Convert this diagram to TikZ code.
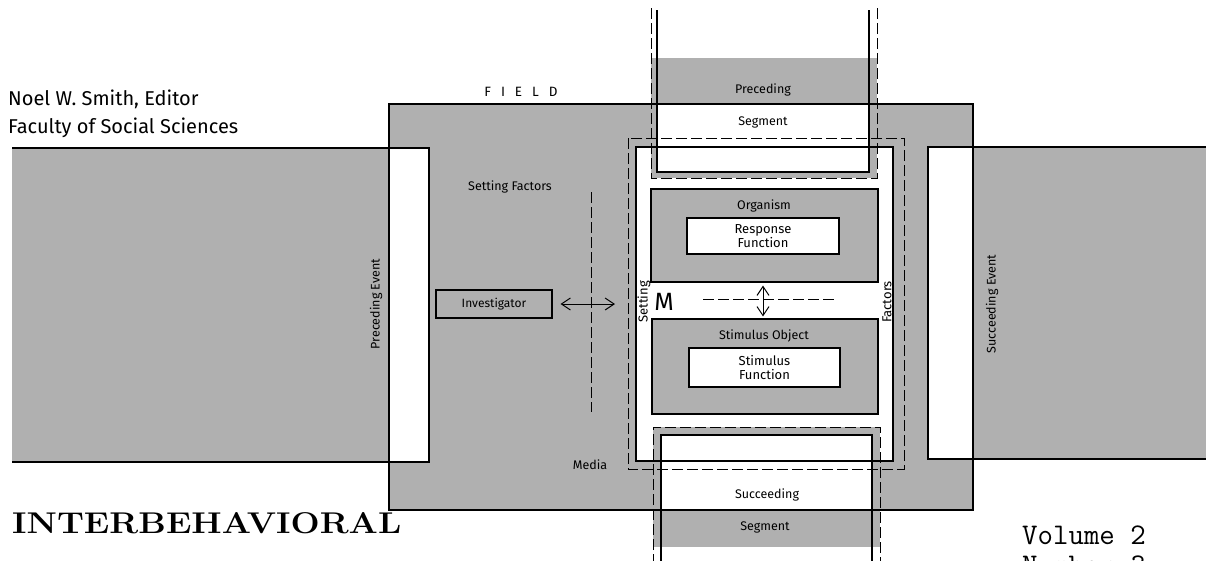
\documentclass[tikz,border=0pt]{standalone}
\usepackage{fontspec}
\setmainfont{Fira Sans}
\usetikzlibrary{arrows.meta}
\definecolor{halftone}{gray}{0.69}
\begin{document}
\begin{tikzpicture}[x=1pt,y=-1pt,
  ln/.style={line width=1.1pt},
  dsh/.style={line width=1pt, dash pattern=on 11pt off 4pt},
  lbl/.style={inner sep=0pt, font=\fontsize{12.5}{14}\selectfont},
  gbox/.style={draw, line width=1.1pt, fill=halftone, inner sep=0pt},
  wbox/.style={draw, line width=1.1pt, fill=white, inner sep=0pt, align=center, font=\fontsize{13}{16}\selectfont},
  arr/.style={line width=1pt, {Straight Barb[length=9pt,width=12pt]}-{Straight Barb[length=9pt,width=12pt]}}
]
\useasboundingbox (0,0) rectangle (1206,560);
% event bands
\fill[halftone] (12,148) rectangle (389,462);
\draw[ln] (12,148) -- (389,148);
\draw[ln] (12,462) -- (389,462);
\fill[halftone] (973,147) rectangle (1210,459);
\draw[ln] (973,147) -- (1210,147);
\draw[ln] (973,459) -- (1210,459);
% field
\fill[halftone] (389,104) rectangle (973,510);
\draw[ln, fill=white] (389,148) rectangle (429,462);
\draw[ln, fill=white] (928,147) rectangle (973,459);
% central frame
\fill[white] (636,147) rectangle (893,461);
% segments
\fill[halftone] (651,58) rectangle (877,178);
\fill[white] (657,104) rectangle (869,172);
\fill[halftone] (653,427) rectangle (880,547);
\fill[white] (661,435) rectangle (872,510);
% borders
\draw[ln] (389,104) rectangle (973,510);
\draw[ln] (636,147) rectangle (893,461);
\draw[dsh] (628,138) rectangle (904,469);
\draw[ln] (657,10) -- (657,172) -- (869,172) -- (869,10);
\draw[dsh] (651,8) -- (651,178) -- (877,178) -- (877,8);
\draw[ln] (661,565) -- (661,435) -- (872,435) -- (872,565);
\draw[dsh] (653,565) -- (653,427) -- (880,427) -- (880,565);
% organism / stimulus
\node[gbox, minimum width=227pt, minimum height=93pt] (org) at (764.5,235.5) {};
\node[wbox, minimum width=152pt, minimum height=36pt] (resp) at (763,236) {Response\\[-2pt]Function};
\node[lbl] (orgl) at (764,206) {Organism};
\node[gbox, minimum width=226pt, minimum height=95pt] (stim) at (765,366.5) {};
\node[wbox, minimum width=151pt, minimum height=39pt] (sfun) at (764.5,367.5) {Stimulus\\[-2pt]Function};
\node[lbl] (stiml) at (764,336) {Stimulus Object};
% setting factors
\node[lbl] (setf) at (510,187) {Setting Factors};
\node[draw, line width=1.1pt, inner sep=0pt, minimum width=116pt, minimum height=28pt, font=\fontsize{12}{14}\selectfont] (inv) at (494,304) {Investigator};
\coordinate (ia) at (615,304);
\draw[arr, shorten <=8pt] (inv.east) -- (ia);
\coordinate (dv1) at (591,192);
\coordinate (dv2) at (591,412);
\draw[dsh] (dv1) -- (dv2);
\node[lbl] (media) at (590,465) {Media};
% M row
\node[inner sep=0pt, font=\fontsize{25}{26}\selectfont] (m) at (664,302) {M};
\node[lbl, rotate=90, font=\fontsize{13}{14}\selectfont] (setl) at (644,302) {Setting};
\node[lbl, rotate=90, font=\fontsize{13}{14}\selectfont] (facl) at (887,302) {Factors};
\coordinate (ml) at (703,299);
\coordinate (mr) at (835,299);
\draw[dsh] (ml) -- (mr);
\draw[arr, shorten <=3pt, shorten >=2pt] (org.south -| 763,0) -- (stim.north -| 763,0);
% event labels
\node[lbl, rotate=90] (pev) at (376,304) {Preceding Event};
\node[lbl, rotate=90] (sev) at (992,304) {Succeeding Event};
% segment labels
\node[lbl] (prec) at (763,90) {Preceding};
\node[lbl] (seg1) at (763,122) {Segment};
\node[lbl] (succ) at (767,495) {Succeeding};
\node[lbl] (seg2) at (765,527) {Segment};
\node[inner sep=0pt, font=\fontsize{13.5}{14}\selectfont] (field) at (521,92) {F\hspace{10pt}I\hspace{10pt}E\hspace{10pt}L\hspace{10pt}D};
% header texts
\node[anchor=base west, inner sep=0pt, font=\fontsize{20}{22}\selectfont] (ed) at (8,105) {Noel W. Smith, Editor};
\node[anchor=base west, inner sep=0pt, font=\fontsize{20}{22}\selectfont] (fac) at (8,133) {Faculty of Social Sciences};
\node[anchor=base west, inner sep=0pt] (title) at (12,533) {\scalebox{1.15}[1]{\fontspec{Latin Modern Roman}\fontsize{30}{32}\selectfont\bfseries INTERBEHAVIORAL}};
\node[anchor=base west, inner sep=0pt, font=\fontspec{Latin Modern Mono}\fontsize{30}{32}\selectfont] (vol) at (1022,544) {Volume 2};
\node[anchor=base west, inner sep=0pt, font=\fontspec{Latin Modern Mono}\fontsize{30}{32}\selectfont] (num) at (1022,574) {Number 3};
\end{tikzpicture}
\end{document}
